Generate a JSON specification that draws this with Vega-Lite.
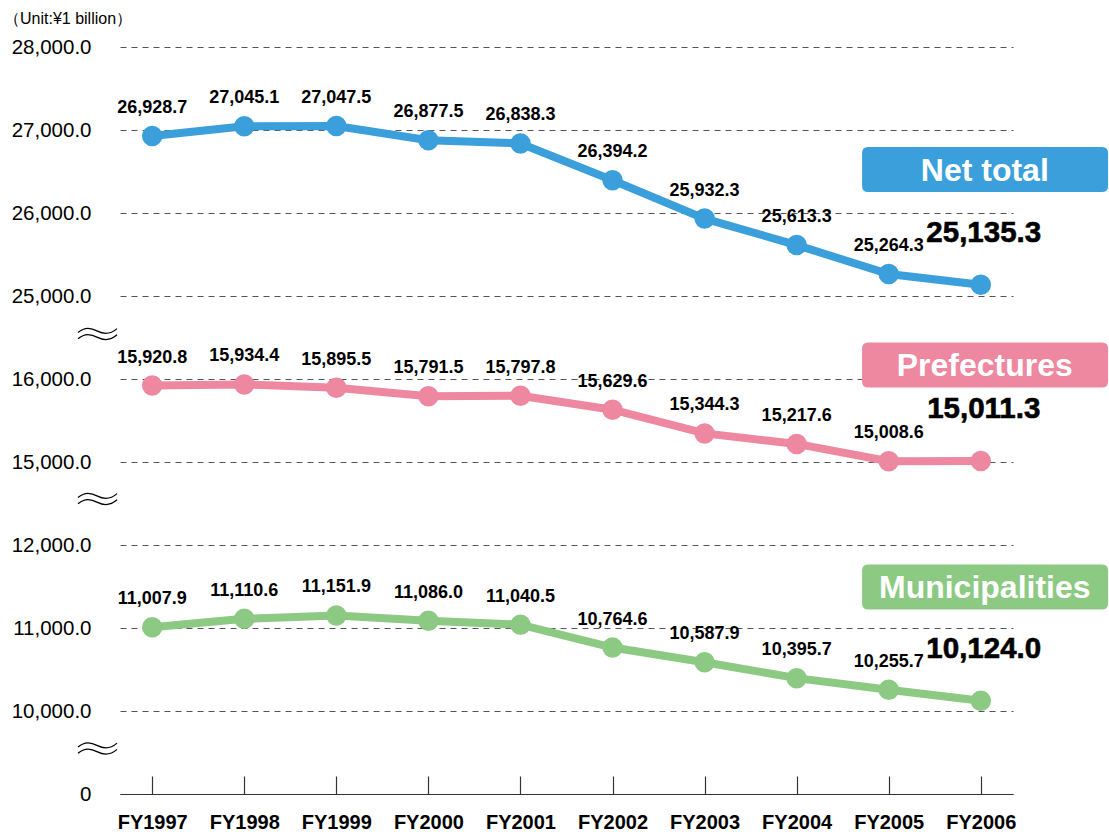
{
  "$schema": "https://vega.github.io/schema/vega-lite/v6.json",
  "autosize": {"type": "none"},
  "width": 893,
  "height": 747,
  "padding": {"left": 120, "top": 47, "right": 96, "bottom": 43},
  "background": "white",
  "title": {
    "text": "（Unit:¥1 billion）",
    "anchor": "start",
    "frame": "group",
    "dx": -116,
    "offset": 10,
    "font": "Liberation Sans",
    "fontSize": 16,
    "fontWeight": "normal",
    "color": "black"
  },
  "config": {
    "view": {"stroke": null},
    "font": "Liberation Sans"
  },
  "datasets": {
    "main": [
      {"year": "FY1997", "series": "Net total", "value": 26928.7},
      {"year": "FY1998", "series": "Net total", "value": 27045.1},
      {"year": "FY1999", "series": "Net total", "value": 27047.5},
      {"year": "FY2000", "series": "Net total", "value": 26877.5},
      {"year": "FY2001", "series": "Net total", "value": 26838.3},
      {"year": "FY2002", "series": "Net total", "value": 26394.2},
      {"year": "FY2003", "series": "Net total", "value": 25932.3},
      {"year": "FY2004", "series": "Net total", "value": 25613.3},
      {"year": "FY2005", "series": "Net total", "value": 25264.3},
      {"year": "FY2006", "series": "Net total", "value": 25135.3},
      {"year": "FY1997", "series": "Prefectures", "value": 15920.8},
      {"year": "FY1998", "series": "Prefectures", "value": 15934.4},
      {"year": "FY1999", "series": "Prefectures", "value": 15895.5},
      {"year": "FY2000", "series": "Prefectures", "value": 15791.5},
      {"year": "FY2001", "series": "Prefectures", "value": 15797.8},
      {"year": "FY2002", "series": "Prefectures", "value": 15629.6},
      {"year": "FY2003", "series": "Prefectures", "value": 15344.3},
      {"year": "FY2004", "series": "Prefectures", "value": 15217.6},
      {"year": "FY2005", "series": "Prefectures", "value": 15008.6},
      {"year": "FY2006", "series": "Prefectures", "value": 15011.3},
      {"year": "FY1997", "series": "Municipalities", "value": 11007.9},
      {"year": "FY1998", "series": "Municipalities", "value": 11110.6},
      {"year": "FY1999", "series": "Municipalities", "value": 11151.9},
      {"year": "FY2000", "series": "Municipalities", "value": 11086.0},
      {"year": "FY2001", "series": "Municipalities", "value": 11040.5},
      {"year": "FY2002", "series": "Municipalities", "value": 10764.6},
      {"year": "FY2003", "series": "Municipalities", "value": 10587.9},
      {"year": "FY2004", "series": "Municipalities", "value": 10395.7},
      {"year": "FY2005", "series": "Municipalities", "value": 10255.7},
      {"year": "FY2006", "series": "Municipalities", "value": 10124.0}
    ],
    "badges": [
      {"series": "Net total", "anchor": 26524},
      {"series": "Prefectures", "anchor": 17518},
      {"series": "Municipalities", "anchor": 11494}
    ],
    "breaks": [
      {"at": 20934},
      {"at": 13681},
      {"at": 5542}
    ]
  },
  "encoding": {
    "x": {
      "field": "year",
      "type": "nominal",
      "scale": {"type": "point", "padding": 0.35, "domain": ["FY1997","FY1998","FY1999","FY2000","FY2001","FY2002","FY2003","FY2004","FY2005","FY2006"]},
      "axis": {
        "title": null,
        "labelAngle": 0,
        "labelFont": "Liberation Sans",
        "labelFontSize": 20,
        "labelFontWeight": "bold",
        "labelColor": "black",
        "domainColor": "#333333",
        "domainWidth": 1.2,
        "tickColor": "#333333",
        "tickWidth": 1.2,
        "tickSize": -18,
        "labelPadding": 36,
        "grid": false
      }
    },
    "y": {
      "field": "value",
      "type": "quantitative",
      "scale": {
        "domain": [0, 10000, 12000, 15000, 16000, 25000, 28000],
        "range": [747, 664, 498, 415, 332, 249, 0],
        "zero": false,
        "nice": false
      },
      "axis": {
        "title": null,
        "values": [0, 10000, 11000, 12000, 15000, 16000, 25000, 26000, 27000, 28000],
        "labelExpr": "datum.value == 0 ? '0' : format(datum.value, ',.1f')",
        "grid": true,
        "gridDash": [6, 5],
        "gridColor": "#555555",
        "gridWidth": 1,
        "domain": false,
        "ticks": false,
        "labelPadding": 29,
        "labelFont": "Liberation Sans",
        "labelFontSize": 20.5,
        "labelColor": "black"
      }
    }
  },
  "layer": [
    {
      "data": {"name": "main"},
      "mark": {"type": "line", "strokeWidth": 8},
      "encoding": {
        "color": {
          "field": "series",
          "type": "nominal",
          "scale": {"domain": ["Net total", "Prefectures", "Municipalities"], "range": ["#3a9fda", "#ee87a0", "#8cc982"]},
          "legend": null
        },
        "detail": {"field": "series"}
      }
    },
    {
      "data": {"name": "main"},
      "mark": {"type": "circle", "size": 420, "opacity": 1},
      "encoding": {
        "color": {"field": "series", "type": "nominal", "legend": null}
      }
    },
    {
      "data": {"name": "main"},
      "transform": [{"filter": "datum.year != 'FY2006'"}],
      "mark": {"type": "text", "fontSize": 18, "fontWeight": "bold", "font": "Liberation Sans", "dy": -28, "baseline": "middle", "color": "black"},
      "encoding": {
        "text": {"field": "value", "type": "quantitative", "format": ",.1f"}
      }
    },
    {
      "data": {"name": "main"},
      "transform": [{"filter": "datum.year == 'FY2006'"}],
      "mark": {"type": "text", "fontSize": 29.5, "fontWeight": "bold", "font": "Liberation Sans", "dx": 3, "dy": -52, "baseline": "middle", "color": "black", "stroke": "black", "strokeWidth": 0.6},
      "encoding": {
        "text": {"field": "value", "type": "quantitative", "format": ",.1f"}
      }
    },
    {
      "data": {"name": "badges"},
      "mark": {
        "type": "point",
        "filled": true,
        "opacity": 1,
        "size": 60516,
        "strokeWidth": 0,
        "shape": "M-0.916,-0.183 L0.986,-0.183 Q1.035,-0.183 1.035,-0.134 L1.035,0.134 Q1.035,0.183 0.986,0.183 L-0.916,0.183 Q-0.965,0.183 -0.965,0.134 L-0.965,-0.134 Q-0.965,-0.183 -0.916,-0.183 Z"
      },
      "encoding": {
        "x": {"datum": "FY2006", "type": "nominal"},
        "y": {"field": "anchor", "type": "quantitative"},
        "color": {"field": "series", "type": "nominal", "legend": null}
      }
    },
    {
      "data": {"name": "badges"},
      "mark": {"type": "text", "fontSize": 32, "fontWeight": "bold", "font": "Liberation Sans", "color": "white", "dx": 4, "dy": 1, "baseline": "middle"},
      "encoding": {
        "x": {"datum": "FY2006", "type": "nominal"},
        "y": {"field": "anchor", "type": "quantitative"},
        "text": {"field": "series"}
      }
    },
    {
      "data": {"name": "breaks"},
      "mark": {
        "type": "point",
        "filled": false,
        "size": 1521,
        "stroke": "black",
        "strokeWidth": 1.3,
        "opacity": 1,
        "shape": "M-3.805,-0.05 C-3.45,-0.35 -3.15,-0.3 -2.805,-0.12 C-2.45,0.06 -2.15,0.05 -1.805,-0.25 M-3.805,0.27 C-3.45,-0.03 -3.15,0.02 -2.805,0.2 C-2.45,0.38 -2.15,0.37 -1.805,0.07"
      },
      "encoding": {
        "x": {"datum": "FY1997", "type": "nominal"},
        "y": {"field": "at", "type": "quantitative"}
      }
    }
  ]
}
